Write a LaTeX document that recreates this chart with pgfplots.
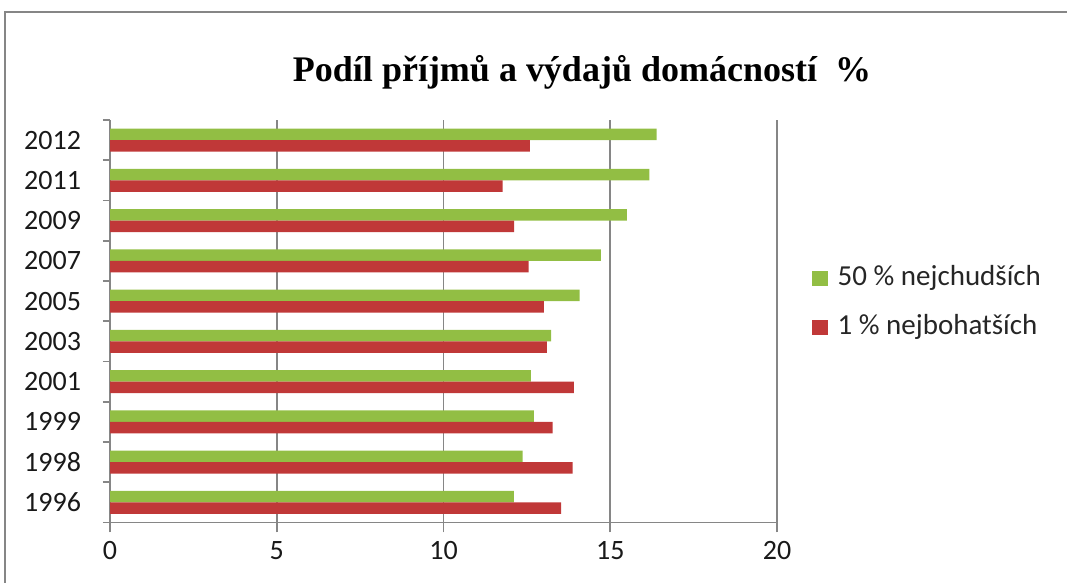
\documentclass[border=0pt]{standalone}
\usepackage{pgfplots}
\pgfplotsset{compat=1.18}
\usepackage{fontspec}
\setmainfont{Carlito}
\newfontfamily\titlefont{Liberation Serif}
\definecolor{axgray}{RGB}{134,134,134}
\definecolor{gbar}{RGB}{146,190,68}
\definecolor{rbar}{RGB}{192,56,56}
\begin{document}
\begin{tikzpicture}
\useasboundingbox (0pt,0pt) rectangle (533.5pt,291.5pt);
\draw[axgray, line width=1pt] (2.5pt,-20pt) rectangle (600pt,285.5pt);
\node[anchor=base, font=\titlefont\bfseries\fontsize{18}{20}\selectfont] at (291pt,250.5pt) {Podíl příjmů a výdajů domácností\hspace{0.5em}\%};
\begin{axis}[
  at={(55pt,30.25pt)}, anchor=south west,
  scale only axis, width=333.5pt, height=201.25pt,
  xmin=0, xmax=20, ymin=-0.5, ymax=9.5,
  axis lines=left,
  axis line style={draw=axgray, line width=0.8pt, -},
  tick align=outside,
  xtick={0,5,10,15,20},
  xmajorgrids, grid style={axgray, line width=0.8pt},
  x tick style={axgray, line width=0.8pt},
  major tick length=5pt,
  ytick={0,...,9},
  yticklabels={1996,1998,1999,2001,2003,2005,2007,2009,2011,2012},
  y tick style={draw=none},
  minor ytick={-0.5,0.5,...,9.5},
  minor y tick style={draw=axgray, line width=0.8pt},
  minor tick length=3.5pt,
  ticklabel style={font=\fontsize{14}{16}\selectfont, text=black!90},
  yticklabel style={xshift=-6pt},
  xticklabel style={yshift=-1pt},
  /pgf/number format/assume math mode=true,
  xbar, bar width=5.75pt,
  legend style={draw=none, fill=none, at={(1.043,0.545)}, anchor=west,
    font=\fontsize{14.5}{16}\selectfont, text=black!85, row sep=8pt,
    nodes={inner sep=2pt, text height=9.5pt, text depth=3pt},
    /tikz/every odd column/.append style={column sep=3pt}},
  legend cell align=left,
  legend image code/.code={\fill[#1] (0pt,-3.9pt) rectangle (7.8pt,3.9pt);},
]
\addplot[draw=none, fill=gbar, bar shift=2.875pt] coordinates {
(12.11,0) (12.37,1) (12.71,2) (12.62,3) (13.23,4) (14.08,5) (14.72,6) (15.50,7) (16.17,8) (16.39,9)};
\addlegendentry{50 \% nejchudších}
\addplot[draw=none, fill=rbar, bar shift=-2.875pt] coordinates {
(13.53,0) (13.87,1) (13.27,2) (13.91,3) (13.10,4) (13.01,5) (12.55,6) (12.12,7) (11.77,8) (12.59,9)};
\addlegendentry{1 \% nejbohatších}
\end{axis}
\end{tikzpicture}
\end{document}
